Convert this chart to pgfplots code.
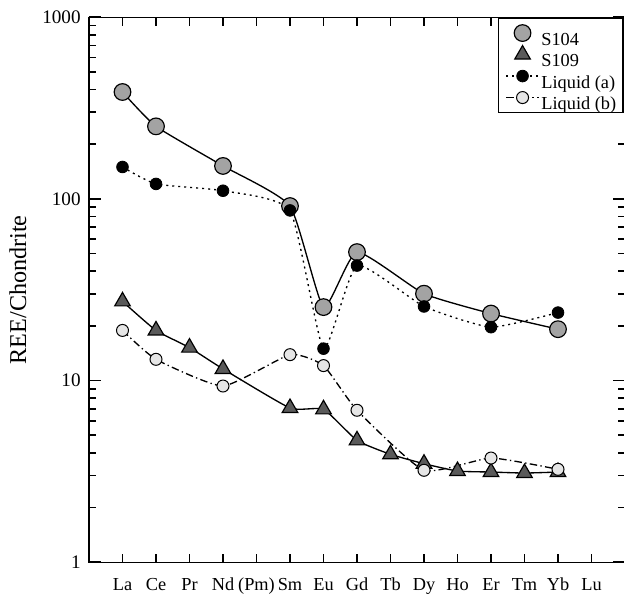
\documentclass[border=0pt]{standalone}
\usepackage{fontspec}
\setmainfont{Liberation Serif}
\usepackage{pgfplots}
\pgfplotsset{compat=1.18}
\definecolor{sgray}{HTML}{A3A3A3}
\definecolor{tgray}{HTML}{5A5A5A}
\definecolor{lgray}{HTML}{E6E6E6}
\begin{document}
\begin{tikzpicture}
\useasboundingbox (-53.4pt,-21.42pt) rectangle (321.0pt,337.38pt);
\begin{axis}[
  scale only axis, width=321.6pt, height=327pt,
  anchor=south west, at={(0,0)},
  ymode=log, ymin=1, ymax=1000,
  xmin=-1, xmax=15,
  xtick={0,1,2,3,4,5,6,7,8,9,10,11,12,13,14},
  xticklabels={La,Ce,Pr,Nd,(Pm),Sm,Eu,Gd,Tb,Dy,Ho,Er,Tm,Yb,Lu},
  xtick pos=both, ytick pos=both,
  xticklabel pos=left,
  yticklabel pos=left,
  tick align=inside,
  major tick length=5pt, minor tick length=4.2pt,
  extra y ticks={1,10,100,1000},
  extra y tick labels={},
  extra y tick style={major tick length=7pt},
  axis line style={line width=0.9pt},
  tick style={black, line width=1pt},
  log ticks with fixed point,
  /pgf/number format/1000 sep={},
  /pgf/number format/assume math mode=true,
  xticklabel style={font=\fontsize{11}{13}\selectfont, yshift=-6pt},
  yticklabel style={font=\fontsize{11.5}{13}\selectfont, xshift=-1.5pt},
  ylabel={REE/Chondrite},
  every axis y label/.style={at={(axis description cs:-0.1325,0.5)}, rotate=90, anchor=center, font=\fontsize{14.5}{16}\selectfont},
  legend style={at={(axis description cs:0.763,1)}, anchor=north west, draw=black, line width=0.9pt, fill=white,
    inner xsep=4pt, inner ysep=1.7pt, row sep=-1.7pt, /tikz/column sep=1pt,
    nodes={inner sep=0pt, text height=14.6pt, text depth=0pt, font=\fontsize{11}{13}\selectfont}},
  legend cell align=left,
  legend image code/.code={\draw[mark repeat=2,mark phase=2,#1] plot coordinates {(0pt,0pt)(9.9pt,0pt)(19.8pt,0pt)};},
]
% S104
\addplot[black, line width=0.8pt, smooth, tension=0.3, mark=*, mark size=5pt,
  mark options={fill=sgray, draw=black, line width=0.7pt, solid}, forget plot] coordinates {
  (0,388) (1,251) (3,152) (5,91.4) (6,25.4) (7,51) (9,30.1) (11,23.4) (13,19.2)};
% S109
\addplot[black, line width=0.8pt, smooth, tension=0.3, mark=triangle*, mark size=5.4pt,
  mark options={fill=tgray, draw=black, line width=0.7pt, solid}, forget plot] coordinates {
  (0,27.3) (1,18.9) (2,15.2) (3,11.6) (5,7.07) (6,6.95) (7,4.69) (8,3.93) (9,3.49) (10,3.18) (11,3.14) (12,3.10) (13,3.14)};
% Liquid (a)
\addplot[black, line width=0.8pt, smooth, tension=0.3, dash pattern=on 1.2pt off 2.4pt, mark=*, mark size=3.5pt,
  mark options={fill=black, draw=black, line width=0.5pt, solid}, forget plot] coordinates {
  (0,150) (1,121) (3,111) (5,86.5) (6,15) (7,43) (9,25.6) (11,19.7) (13,23.7)};
% Liquid (b)
\addplot[black, line width=0.8pt, smooth, tension=0.3, dash pattern=on 4.5pt off 2pt on 0.8pt off 2pt, mark=*, mark size=3.6pt,
  mark options={fill=lgray, draw=black, line width=0.6pt, solid}, forget plot] coordinates {
  (0,18.9) (1,13.1) (3,9.34) (5,13.9) (6,12.1) (7,6.87) (9,3.21) (11,3.75) (13,3.25)};

\addlegendimage{only marks, mark=*, mark size=5pt, mark options={fill=sgray, draw=black, line width=0.7pt}}
\addlegendentry{S104}
\addlegendimage{only marks, mark=triangle*, mark size=5.4pt, mark options={fill=tgray, draw=black, line width=0.7pt}}
\addlegendentry{S109}
\addlegendimage{black, line width=0.8pt, dash pattern=on 1.2pt off 2.4pt, mark=*, mark size=3.5pt, mark options={fill=black, draw=black, line width=0.5pt, solid}}
\addlegendentry{Liquid (a)}
\addlegendimage{black, line width=0.8pt, dash pattern=on 4.5pt off 2pt on 0.8pt off 2pt, mark=*, mark size=3.6pt, mark options={fill=lgray, draw=black, line width=0.6pt, solid}}
\addlegendentry{Liquid (b)}
\end{axis}
\end{tikzpicture}
\end{document}
